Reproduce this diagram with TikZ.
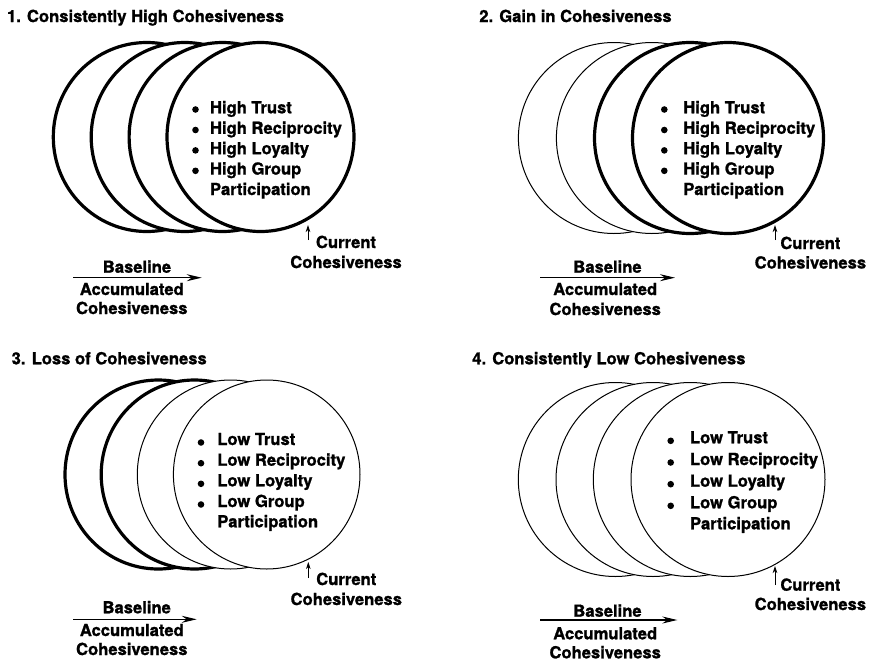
\documentclass[tikz,border=0pt]{standalone}
\usepackage{fontspec}
\setmainfont{TeX Gyre Heros}[BoldFeatures={FakeBold=1.2}]
\usetikzlibrary{arrows.meta}
\begin{document}
\begin{tikzpicture}[x=1pt,y=-1pt,
  lbl/.style={font=\fontsize{16.6}{20.5}\selectfont\bfseries, inner sep=0pt, outer sep=0pt},
  lw/.style={lbl, anchor=base west},
  lc/.style={lbl, anchor=base},
  thickc/.style={draw=black, fill=white, line width=3.2pt},
  thinc/.style={draw=black, fill=white, line width=1pt},
  bul/.style={fill=black},
  basearrow/.style={line width=1.1pt, -{Stealth[length=15pt,width=7pt,inset=5pt]}},
  curarrow/.style={line width=0.8pt, -{Stealth[length=7pt,width=4.5pt,inset=2pt]}}]
\useasboundingbox[fill=white] (0,0) rectangle (871,662);

% ---------- Panel 1 ----------
\node[lw] (t1) at (7,22) {1. Consistently High Cohesiveness};
\foreach \cx in {146.8,184.7,222.6,260.5}
  \draw[thickc] (\cx,137) ellipse (93.5 and 94.5);
\foreach \yy/\txt [count=\i] in {113.3/High Trust,133.8/High Reciprocity,154.2/High Loyalty,174.6/High Group}{
  \fill[bul] (195.5,\yy-3.8) circle (3.3);
  \node[lw] (p1l\i) at (210,\yy) {\txt};
}
\node[lw] (p1l5) at (210,195) {Participation};
\coordinate (p1cs) at (308,240);
\coordinate (p1ce) at (308,225);
\draw[curarrow] (p1cs) -- (p1ce);
\node[lc] (p1c1) at (346,248) {Current};
\node[lc] (p1c2) at (346,268) {Cohesiveness};
\coordinate (p1bs) at (73.3,277.7);
\coordinate (p1be) at (201.7,277.7);
\draw[basearrow] (p1bs) -- (p1be);
\node[lc] (p1b1) at (137,272.7) {Baseline};
\node[lc] (p1b2) at (131.8,295) {Accumulated};
\node[lc] (p1b3) at (131.8,314) {Cohesiveness};

% ---------- Panel 2 ----------
\node[lw] (t2) at (479.3,22) {2. Gain in Cohesiveness};
\draw[thinc] (613.9,138) ellipse (95.5 and 95.5);
\draw[thinc] (651.9,138) ellipse (95.5 and 95.5);
\draw[thickc] (690,138) ellipse (95.5 and 95.5);
\draw[thickc] (728,138) ellipse (95.5 and 95.5);
\foreach \yy/\txt [count=\i] in {113.3/High Trust,133.8/High Reciprocity,154.2/High Loyalty,174.6/High Group}{
  \fill[bul] (664.3,\yy-3.8) circle (3.3);
  \node[lw] (p2l\i) at (683.3,\yy) {\txt};
}
\node[lw] (p2l5) at (683.3,195) {Participation};
\coordinate (p2cs) at (775,240);
\coordinate (p2ce) at (775,225);
\draw[curarrow] (p2cs) -- (p2ce);
\node[lc] (p2c1) at (810.4,249) {Current};
\node[lc] (p2c2) at (810.4,268.5) {Cohesiveness};
\coordinate (p2bs) at (540,277.7);
\coordinate (p2be) at (675,277.7);
\draw[basearrow] (p2bs) -- (p2be);
\node[lc] (p2b1) at (607.5,272.7) {Baseline};
\node[lc] (p2b2) at (605.2,295) {Accumulated};
\node[lc] (p2b3) at (605.2,315) {Cohesiveness};

% ---------- Panel 3 ----------
\node[lw] (t3) at (11.7,364.3) {3. Loss of Cohesiveness};
\draw[thickc] (158.3,474.5) ellipse (93.3 and 94.5);
\draw[thickc] (194.5,474.5) ellipse (93.3 and 94.5);
\draw[thinc] (230.6,474.5) ellipse (93.3 and 94.5);
\draw[thinc] (266.7,474.5) ellipse (93.3 and 94.5);
\foreach \yy/\txt [count=\i] in {445/Low Trust,465.7/Low Reciprocity,486.3/Low Loyalty,507/Low Group}{
  \fill[bul] (201,\yy-2.5) circle (3.3);
  \node[lw] (p3l\i) at (217.3,\yy) {\txt};
}
\node[lw] (p3l5) at (217.3,527.3) {Participation};
\coordinate (p3cs) at (308.3,578);
\coordinate (p3ce) at (308.3,562);
\draw[curarrow] (p3cs) -- (p3ce);
\node[lc] (p3c1) at (346.3,585) {Current};
\node[lc] (p3c2) at (346.3,605) {Cohesiveness};
\coordinate (p3bs) at (73.3,619.3);
\coordinate (p3be) at (196.7,619.3);
\draw[basearrow] (p3bs) -- (p3be);
\node[lc] (p3b1) at (136.7,613.3) {Baseline};
\node[lc] (p3b2) at (131.8,636) {Accumulated};
\node[lc] (p3b3) at (131.8,655) {Cohesiveness};

% ---------- Panel 4 ----------
\node[lw] (t4) at (472.3,364.3) {4. Consistently Low Cohesiveness};
\foreach \cx in {615.3,653,690.3,728}
  \draw[thinc] (\cx,479.5) ellipse (97 and 97);
\foreach \yy/\txt [count=\i] in {443.3/Low Trust,465/Low Reciprocity,486.7/Low Loyalty,508.3/Low Group}{
  \fill[bul] (670.7,\yy-2.5) circle (3.3);
  \node[lw] (p4l\i) at (690,\yy) {\txt};
}
\node[lw] (p4l5) at (690,529.3) {Participation};
\coordinate (p4cs) at (775,585);
\coordinate (p4ce) at (775,566);
\draw[curarrow] (p4cs) -- (p4ce);
\node[lc] (p4c1) at (810.4,590.7) {Current};
\node[lc] (p4c2) at (810.4,610) {Cohesiveness};
\coordinate (p4bs) at (540,620);
\coordinate (p4be) at (677.3,620);
\draw[basearrow] (p4bs) -- (p4be);
\node[lc] (p4b1) at (607.5,616.7) {Baseline};
\node[lc] (p4b2) at (605.2,639.3) {Accumulated};
\node[lc] (p4b3) at (605.2,658.3) {Cohesiveness};
\end{tikzpicture}
\end{document}
